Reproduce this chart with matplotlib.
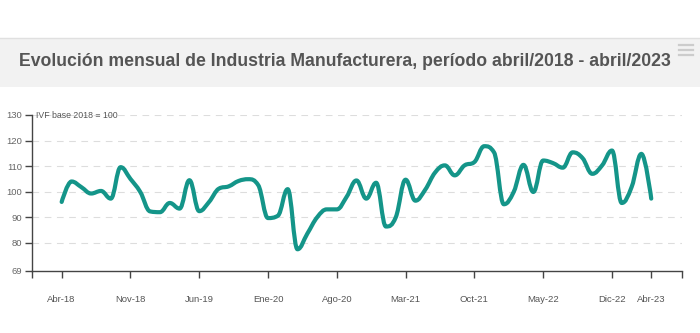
import matplotlib
matplotlib.use("Agg")
from matplotlib import pyplot as plt
from matplotlib.path import Path
from matplotlib.patches import PathPatch, Rectangle
import numpy as np

plt.rcParams["font.family"] = ["Liberation Sans", "DejaVu Sans"]

TITLE = "Evolución mensual de Industria Manufacturera, período abril/2018 - abril/2023"
UNIT_LABEL = "IVF base 2018 = 100"

# monthly index, abril/2018 .. abril/2023
ivf = [
    96.0, 104.0, 101.8, 99.3, 100.3, 97.3, 109.6, 105.0, 99.9, 92.3,
    92.0, 95.6, 93.4, 104.5, 92.4, 96.0, 101.2, 102.1, 104.2, 104.9,
    102.6, 89.7, 90.6, 101.0, 77.5, 83.6, 90.0, 93.1, 93.1, 98.0,
    104.4, 97.3, 103.5, 86.4, 90.0, 104.7, 96.5, 100.8, 107.5, 110.3,
    106.4, 110.3, 111.6, 117.8, 115.4, 95.1, 99.9, 110.5, 99.9, 112.2,
    111.2, 109.4, 115.4, 113.2, 107.0, 110.3, 116.1, 95.6, 101.8, 114.8,
    97.3,
]
tick_pos = [0, 7, 14, 21, 28, 35, 42, 49, 56, 60]
tick_labels = ["Abr-18", "Nov-18", "Jun-19", "Ene-20", "Ago-20", "Mar-21",
               "Oct-21", "May-22", "Dic-22", "Abr-23"]
y_ticks = [69, 80, 90, 100, 110, 120, 130]

LINE_COLOR = "#149589"


def spline_path(xs, ys, smoothing=1.5):
    # bezier smoothing similar to a highcharts "spline" series
    denom = smoothing + 1
    n = len(xs)
    left = [None] * n
    right = [None] * n
    for i in range(1, n - 1):
        px, py = xs[i], ys[i]
        lx, ly = xs[i - 1], ys[i - 1]
        nx, ny = xs[i + 1], ys[i + 1]
        lcx = (smoothing * px + lx) / denom
        lcy = (smoothing * py + ly) / denom
        rcx = (smoothing * px + nx) / denom
        rcy = (smoothing * py + ny) / denom
        if rcx != lcx:
            corr = ((rcy - lcy) * (rcx - px)) / (rcx - lcx) + py - rcy
            lcy += corr
            rcy += corr
        if lcy > ly and lcy > py:
            lcy = max(ly, py)
            rcy = 2 * py - lcy
        elif lcy < ly and lcy < py:
            lcy = min(ly, py)
            rcy = 2 * py - lcy
        if rcy > ny and rcy > py:
            rcy = max(ny, py)
            lcy = 2 * py - rcy
        elif rcy < ny and rcy < py:
            rcy = min(ny, py)
            lcy = 2 * py - rcy
        left[i] = (lcx, lcy)
        right[i] = (rcx, rcy)
    left[n - 1] = (xs[n - 1], ys[n - 1])
    right[0] = (xs[0], ys[0])
    verts = [(xs[0], ys[0])]
    codes = [Path.MOVETO]
    for i in range(1, n):
        verts += [right[i - 1], left[i], (xs[i], ys[i])]
        codes += [Path.CURVE4] * 3
    return Path(verts, codes)


fig = plt.figure(figsize=(7, 3.33), dpi=100)

# header band
fig.patches.append(Rectangle((0, 1 - 87 / 333), 1, 49 / 333, transform=fig.transFigure,
                             facecolor="#f2f2f2", edgecolor="none", zorder=0))
fig.lines.append(plt.Line2D([0, 1], [1 - 38 / 333] * 2, transform=fig.transFigure,
                            color="#e0e0e0", lw=1))
fig.text(0.493, 1 - 62 / 333, TITLE, ha="center", va="center", fontsize=12.7,
         fontweight="bold", color="#555555")
for dy in (45, 50, 55):
    fig.lines.append(plt.Line2D([679 / 700, 693 / 700], [1 - dy / 333] * 2,
                                transform=fig.transFigure, color="#cccccc", lw=1.6))

ax = fig.add_axes([31.7 / 700, 1 - 271 / 333, 650 / 700, 156 / 333])
x = np.arange(len(ivf))
ax.add_patch(PathPatch(spline_path(x, ivf), facecolor="none", edgecolor=LINE_COLOR,
                       lw=3, capstyle="round", joinstyle="round", zorder=3))

ax.set_xlim(-3.05, 63.1)
ax.set_ylim(69, 130)
ax.set_xticks([-3.05] + tick_pos + [63.1])
ax.set_xticklabels([""] + tick_labels + [""])
ax.set_yticks(y_ticks)
for v in y_ticks[1:]:
    ax.axhline(v, color="#dddddd", lw=0.8, ls=(0, (6, 5)), zorder=1)

for side in ("top", "right"):
    ax.spines[side].set_visible(False)
for side in ("left", "bottom"):
    ax.spines[side].set_color("#444444")
    ax.spines[side].set_linewidth(1)
ax.tick_params(axis="x", length=5, width=1, color="#444444", labelsize=6.8,
               labelcolor="#555555", pad=12)
ax.tick_params(axis="y", length=5, width=1, color="#444444", labelsize=6.8,
               labelcolor="#666666", pad=2)

ax.text(36 / 700 - 31.7 / 700, 1.0, UNIT_LABEL, transform=ax.transAxes, ha="left",
        va="center", fontsize=6.3, color="#555555")

fig.savefig("out.png", dpi=100)
